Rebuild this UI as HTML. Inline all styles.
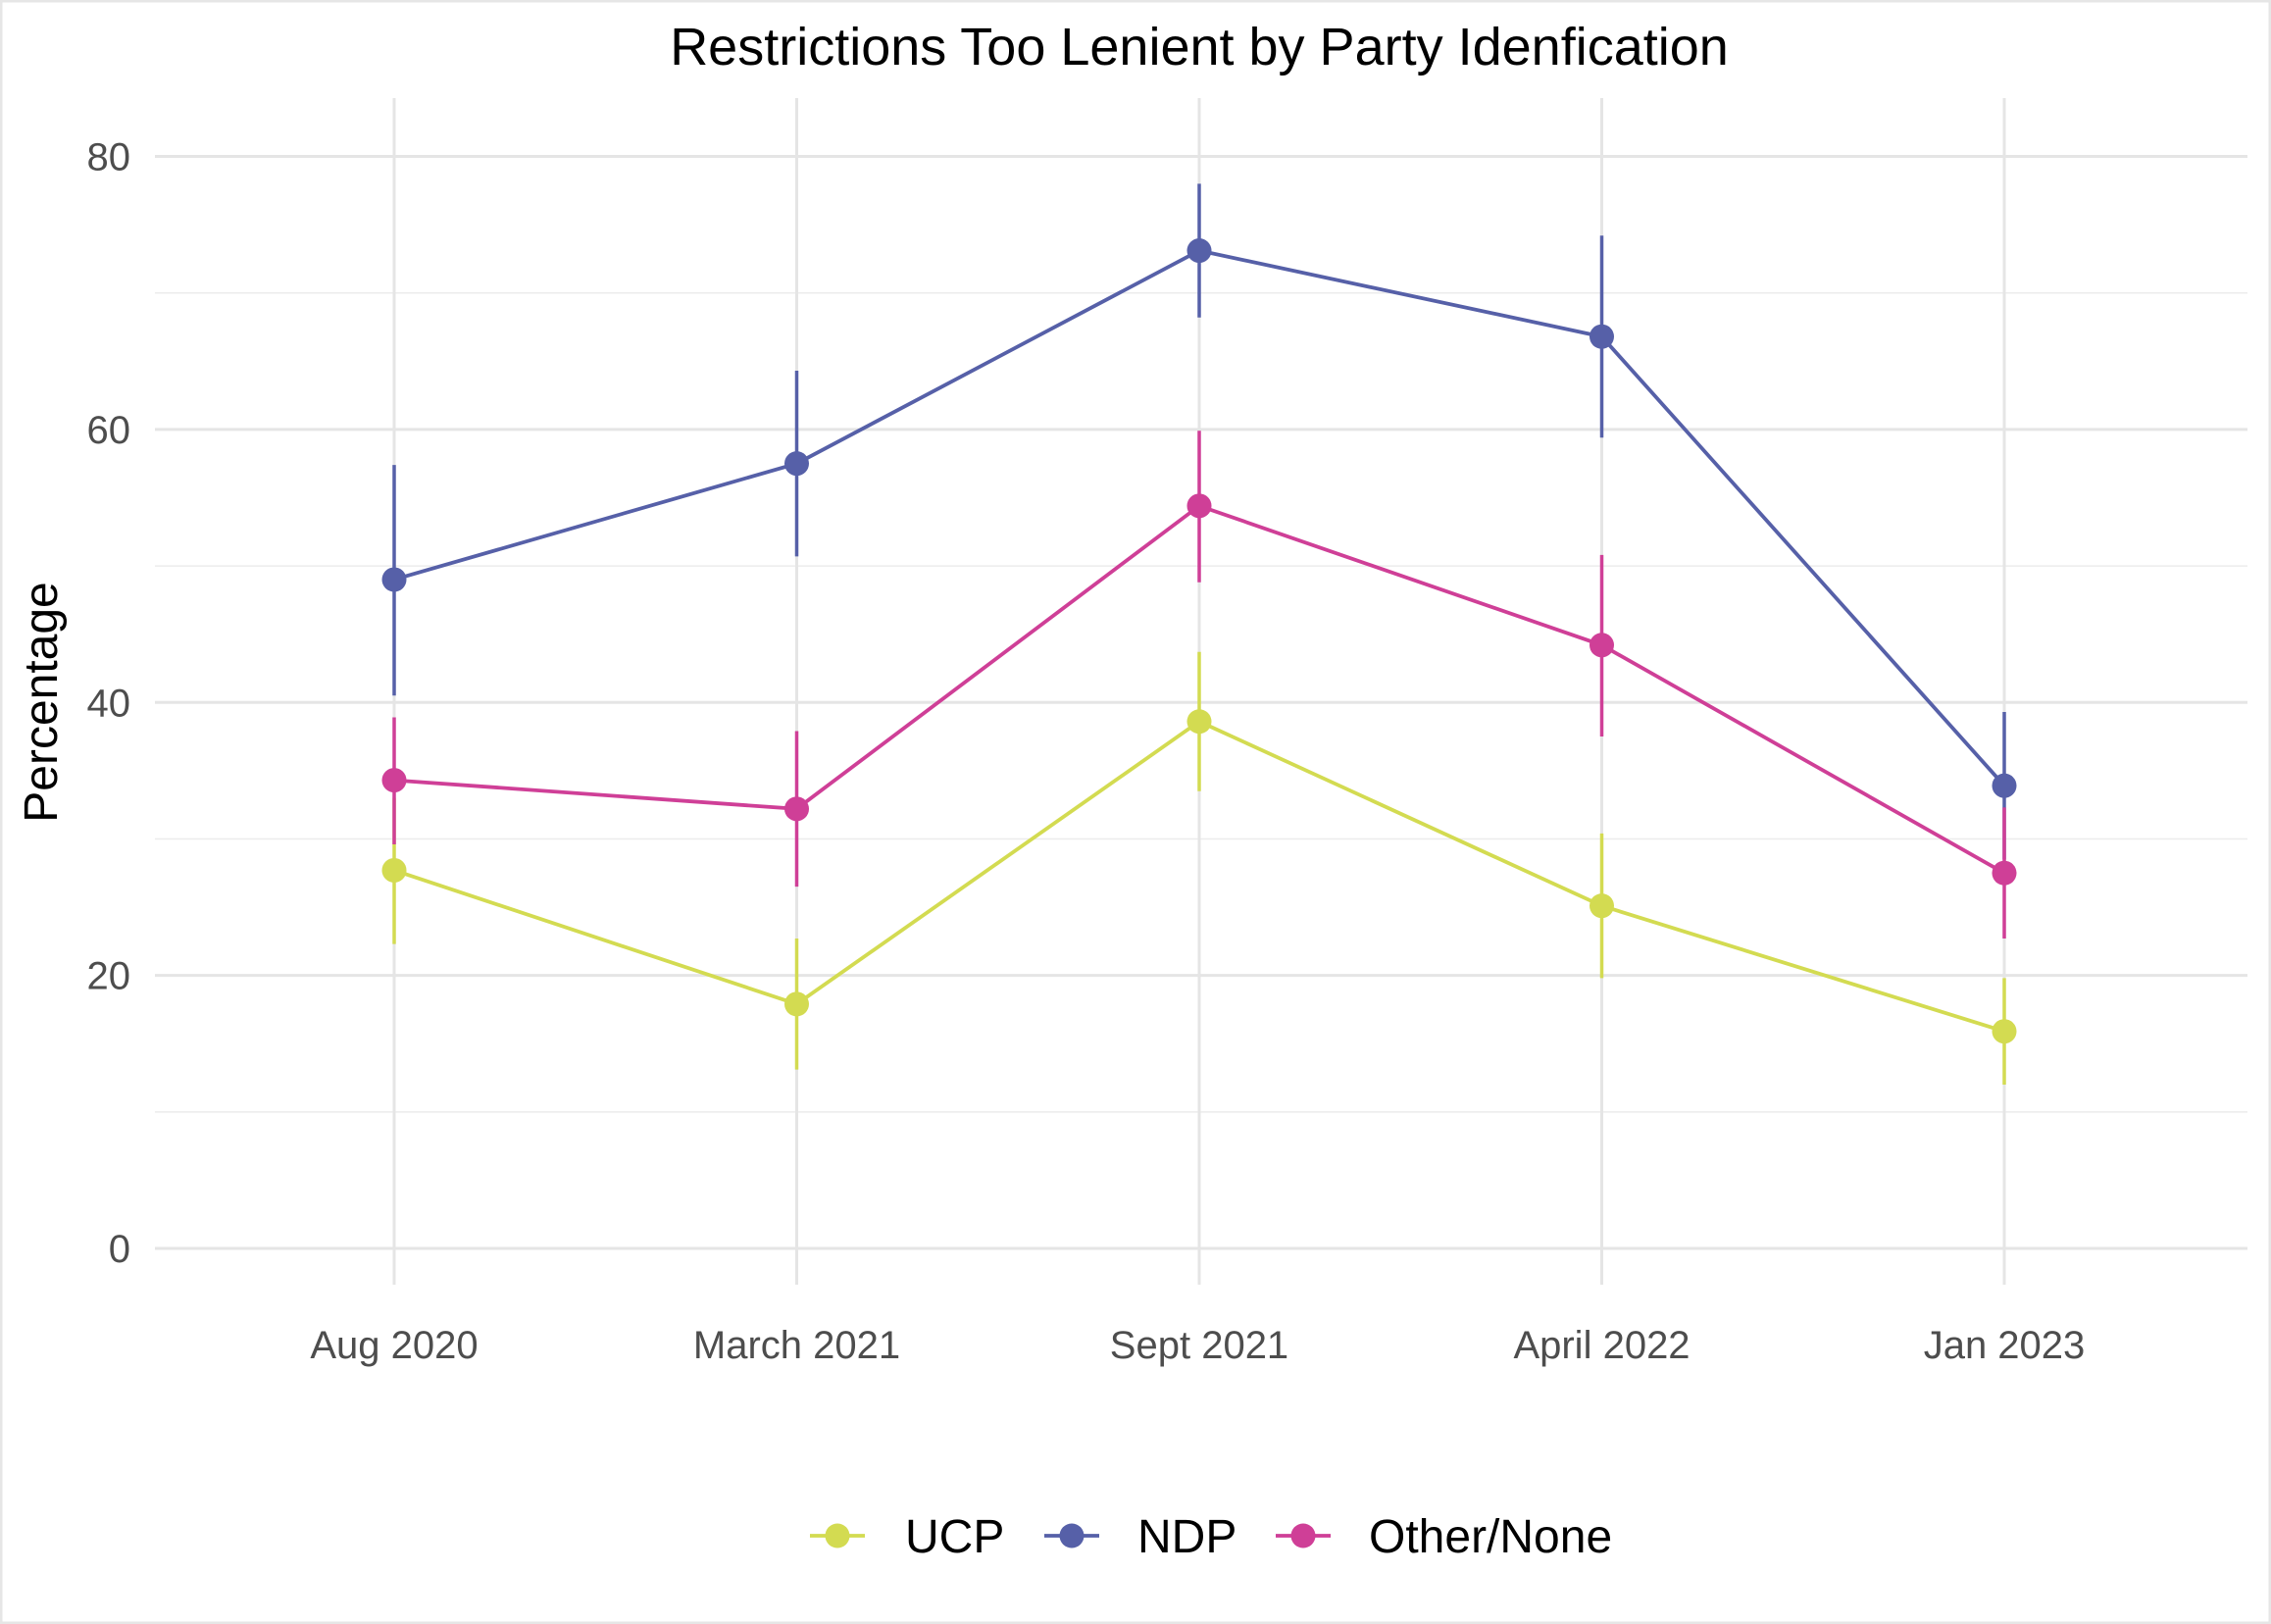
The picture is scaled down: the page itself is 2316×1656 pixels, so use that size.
<!DOCTYPE html>
<html><head><meta charset="utf-8"><style>
html,body{margin:0;padding:0;background:#fff;}
svg{display:block;font-family:"Liberation Sans",sans-serif;}
</style></head><body>
<svg id="chart" width="2316" height="1656" viewBox="0 0 2316 1656">
<rect x="1" y="1" width="2314" height="1654" fill="#fff" stroke="#e6e6e6" stroke-width="3"/>
<text x="1223" y="66" text-anchor="middle" font-size="54" fill="#000">Restrictions Too Lenient by Party Idenfication</text>
<text transform="translate(58,716) rotate(-90)" text-anchor="middle" font-size="48" fill="#000">Percentage</text>
<g id="grid"></g><g id="series"></g><g id="legend"></g>
</svg>
<script>
const categories = ["Aug 2020","March 2021","Sept 2021","April 2022","Jan 2023"];
const yTicks = [0,20,40,60,80];
const yMinor = [10,30,50,70];
const seriesNames = ["UCP","NDP","Other/None"];
const ucpVals = [27.7,17.9,38.6,25.1,15.9];
const ucpLo = [22.3,13.1,33.5,19.8,12.0];
const ucpHi = [33.0,22.7,43.7,30.4,19.8];
const ndpVals = [49.0,57.5,73.1,66.8,33.9];
const ndpLo = [40.5,50.7,68.2,59.4,28.5];
const ndpHi = [57.4,64.3,78.0,74.2,39.3];
const othVals = [34.3,32.2,54.4,44.2,27.5];
const othLo = [29.6,26.5,48.8,37.5,22.7];
const othHi = [38.9,37.9,59.9,50.8,32.3];
const colors = ["#d3db51","#5660a8","#cf3f97"];
const NS="http://www.w3.org/2000/svg";
const x0=402, dx=410.5, py0=1273, py80=159.5;
const xs=i=>x0+i*dx;
const ys=v=>py0+(py80-py0)*v/80;
function mk(tag,attrs,parent){const e=document.createElementNS(NS,tag);for(const k in attrs)e.setAttribute(k,attrs[k]);parent.appendChild(e);return e;}
const grid=document.getElementById('grid');
yMinor.forEach(v=>{const l=mk('line',{x1:158,x2:2292,y1:ys(v),y2:ys(v),stroke:'#ececec','stroke-width':1.5},grid);

});
yTicks.forEach(v=>{const l=mk('line',{x1:158,x2:2292,y1:ys(v),y2:ys(v),stroke:'#e5e5e5','stroke-width':3},grid);


const t=mk('text',{x:133,y:ys(v)+14,'text-anchor':'end','font-size':40,fill:'#4d4d4d'},grid);t.textContent=v;

});
categories.forEach((c,i)=>{const l=mk('line',{x1:xs(i),x2:xs(i),y1:100,y2:1310,stroke:'#e5e5e5','stroke-width':3},grid);


const t=mk('text',{x:xs(i),y:1385,'text-anchor':'middle','font-size':40,fill:'#4d4d4d'},grid);t.textContent=c;

});
const sg=document.getElementById('series');
[[ucpVals,ucpLo,ucpHi],[ndpVals,ndpLo,ndpHi],[othVals,othLo,othHi]].forEach((d,s)=>{
 const g=mk('g',{},sg);
 
 
 d[0].forEach((v,i)=>{const e=mk('line',{x1:xs(i),x2:xs(i),y1:ys(d[1][i]),y2:ys(d[2][i]),stroke:colors[s],'stroke-width':3.5},g);
 
 });
 const p=mk('polyline',{points:d[0].map((v,i)=>xs(i)+','+ys(v)).join(' '),fill:'none',stroke:colors[s],'stroke-width':3.8},g);
 
 
 d[0].forEach((v,i)=>{const c=mk('circle',{cx:xs(i),cy:ys(v),r:12.5,fill:colors[s]},g);
 
 });
});
const lg=document.getElementById('legend');
const lx=[854,1093,1329], tx=[923,1160,1396];
seriesNames.forEach((n,s)=>{const g=mk('g',{},lg);
 
 
 mk('line',{x1:lx[s]-28,x2:lx[s]+28,y1:1566,y2:1566,stroke:colors[s],'stroke-width':3.8},g);
 mk('circle',{cx:lx[s],cy:1566,r:12.5,fill:colors[s]},g);
 const t=mk('text',{x:tx[s],y:1583,'font-size':48,fill:'#000'},g);t.textContent=n;});
</script>
</body></html>
